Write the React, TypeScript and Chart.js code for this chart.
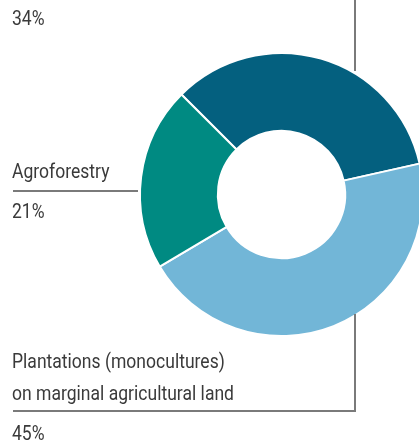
import React, { useEffect, useRef, useState } from "react";
import { Chart, registerables } from "chart.js";

Chart.register(...registerables);

const categories = ["Other", "Plantations (monocultures) on marginal agricultural land", "Agroforestry"];
const shares = [34, 45, 21];
const colors = ["#04607f", "#72b6d7", "#008a82"];

const FONT_FAMILY = 'Roboto, "Noto Sans", sans-serif';
const FONT_WEIGHT = 400;
const FONT_SIZE = 21;
const TEXT = "#3a3a3a";
const LINE = "#7a7a7a";

type Metrics = { scale: number; asc: number; desc: number };

function Label({ x, baseline, m, children }: { x: number; baseline: number; m: Metrics; children: string }) {
  const lh = FONT_SIZE;
  const top = baseline - (lh - (m.asc + m.desc)) / 2 - m.asc;
  return (
    <div
      style={{
        position: "absolute",
        left: x,
        top,
        fontFamily: FONT_FAMILY,
        fontWeight: FONT_WEIGHT,
        fontSize: FONT_SIZE,
        lineHeight: lh + "px",
        color: TEXT,
        whiteSpace: "nowrap",
        fontVariantLigatures: "none",
        transform: `scaleX(${m.scale})`,
        transformOrigin: "0 0",
      }}
    >
      {children}
    </div>
  );
}

function HLine({ x1, x2, y }: { x1: number; x2: number; y: number }) {
  return <div style={{ position: "absolute", left: x1, top: y - 0.75, width: x2 - x1, height: 1.5, background: LINE }} />;
}
function VLine({ x, y1, y2 }: { x: number; y1: number; y2: number }) {
  return <div style={{ position: "absolute", left: x - 0.75, top: y1, width: 1.5, height: y2 - y1, background: LINE }} />;
}

function measure(): Metrics {
  const c = document.createElement("canvas");
  const ctx = c.getContext("2d")!;
  ctx.font = `${FONT_WEIGHT} ${FONT_SIZE}px ${FONT_FAMILY}`;
  const t = ctx.measureText("on marginal agricultural land");
  const asc = (t as any).fontBoundingBoxAscent ?? FONT_SIZE * 0.93;
  const desc = (t as any).fontBoundingBoxDescent ?? FONT_SIZE * 0.24;
  return { scale: 222 / t.width, asc, desc };
}

export default function App() {
  const ref = useRef<HTMLCanvasElement | null>(null);
  const [m, setM] = useState<Metrics>(() => measure());

  useEffect(() => {
    let alive = true;
    (document as any).fonts?.ready?.then(() => {
      if (alive) setM(measure());
    });
    return () => {
      alive = false;
    };
  }, []);

  useEffect(() => {
    if (!ref.current) return;
    const chart = new Chart(ref.current, {
      type: "doughnut",
      data: {
        labels: categories,
        datasets: [
          {
            data: shares,
            backgroundColor: colors,
            borderColor: "#ffffff",
            borderWidth: 2,
            hoverOffset: 0,
          },
        ],
      },
      options: {
        animation: false,
        responsive: false,
        maintainAspectRatio: false,
        rotation: -45,
        cutout: "45%",
        layout: { padding: { left: 139, top: 52, right: 6, bottom: 107 } },
        plugins: { legend: { display: false }, tooltip: { enabled: false } },
        events: [],
      },
    });
    return () => chart.destroy();
  }, []);

  return (
    <div style={{ position: "absolute", left: 0, top: 0, width: 419, height: 444, overflow: "hidden", background: "#fff" }}>
      <canvas ref={ref} width={430} height={444} style={{ position: "absolute", left: 0, top: 0, width: 430, height: 444 }} />
      <VLine x={355} y1={0} y2={71} />
      <Label x={12} baseline={25} m={m}>34%</Label>
      <Label x={12} baseline={178} m={m}>Agroforestry</Label>
      <HLine x1={13} x2={138} y={191} />
      <Label x={12} baseline={218} m={m}>21%</Label>
      <VLine x={355} y1={314} y2={411.75} />
      <Label x={12} baseline={368} m={m}>Plantations (monocultures)</Label>
      <Label x={12} baseline={400} m={m}>on marginal agricultural land</Label>
      <HLine x1={13} x2={355.75} y={411} />
      <Label x={12} baseline={440} m={m}>45%</Label>
    </div>
  );
}
